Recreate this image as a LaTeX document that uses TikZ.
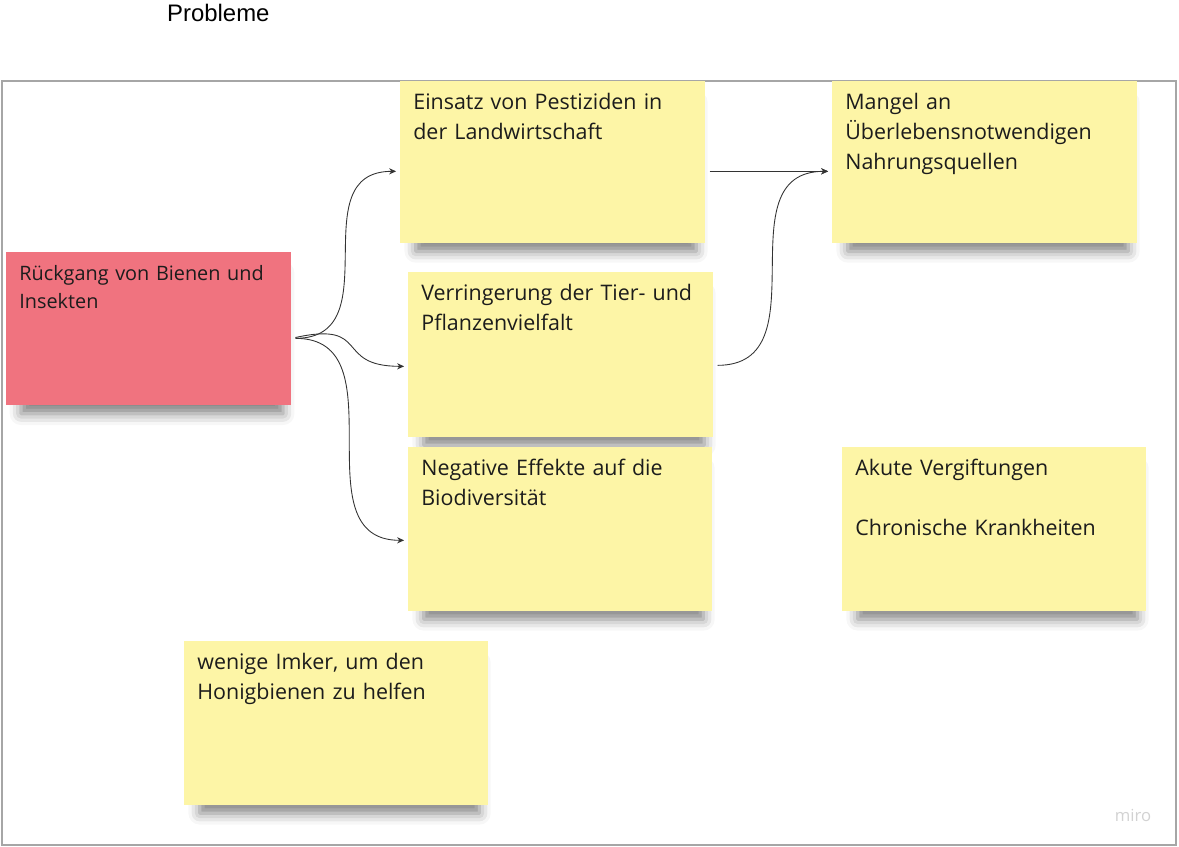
\documentclass[tikz,border=0pt]{standalone}
\usepackage{fontspec}
\setmainfont{Open Sans}
\newfontfamily\titlefont{Liberation Sans}
\usetikzlibrary{arrows.meta,shadows.blur}
\definecolor{noteyellow}{HTML}{FDF5A6}
\definecolor{notered}{HTML}{F0737F}
\definecolor{notetext}{HTML}{1C1C1C}
\tikzset{
  sticky/.style 2 args={anchor=north west, align=left, fill=noteyellow,
    inner xsep=0.26cm, inner ysep=0pt, text width=#1, text height=0.57cm, text depth=#2,
    text=notetext, font=\fontsize{12.2}{17}\selectfont,
    blur shadow={shadow xshift=2pt, shadow yshift=-9pt, shadow scale=0.92,
      shadow blur radius=7pt, shadow opacity=50}},
  link/.style={draw=black!80, line width=0.5pt, -{Stealth[length=4pt,width=3.5pt]},
    shorten <=2.2pt, shorten >=2.2pt}
}
\begin{document}
\begin{tikzpicture}[x=0.02cm,y=-0.02cm]
\useasboundingbox (0,0) rectangle (1179,847);
\draw[gray!70, line width=0.6pt] (2,81) rectangle (1176,845);
\node[anchor=base west, font=\titlefont\fontsize{13.6}{16}\selectfont] (title) at (161,22) {Probleme};
\node[text=gray!35, font=\fontsize{9.5}{11}\selectfont] (miro) at (1133,815) {miro};
% sticky notes
\node[sticky={5.18cm}{2.49cm}, fill=notered, font=\fontsize{11.3}{15.7}\selectfont] (r) at (6,252) {R\"uckgang von Bienen und\\Insekten};
\node[sticky={5.58cm}{2.67cm}] (e) at (400,81) {Einsatz von Pestiziden in\\der Landwirtschaft};
\node[sticky={5.58cm}{2.67cm}] (m) at (832,81) {Mangel an\\\"Uberlebensnotwendigen\\Nahrungsquellen};
\node[sticky={5.58cm}{2.73cm}] (v) at (408,272) {Verringerung der Tier- und\\Pflanzenvielfalt};
\node[sticky={5.56cm}{2.71cm}] (n) at (408,447) {Negative Effekte auf die\\Biodiversit\"at};
\node[sticky={5.56cm}{2.71cm}] (a) at (842,447) {Akute Vergiftungen\\[17pt]Chronische Krankheiten};
\node[sticky={5.56cm}{2.71cm}] (w) at (184,641) {wenige Imker, um den\\Honigbienen zu helfen};
% connectors
\draw[link] ([yshift=-0.19cm]r.east) .. controls +(2cm,0) and +(-2cm,0) .. ([yshift=-0.18cm]e.west);
\draw[link] ([yshift=-0.19cm]r.east) .. controls +(1.6cm,0.35cm) and +(-1.5cm,0) .. ([yshift=-0.23cm]v.west);
\draw[link] ([yshift=-0.19cm]r.east) .. controls +(2.2cm,0) and +(-2.2cm,0) .. ([yshift=-0.22cm]n.west);
\draw[link] ([yshift=-0.18cm]e.east) -- ([yshift=-0.18cm]m.west);
\draw[link] ([yshift=-0.21cm]v.east) .. controls +(2.2cm,0) and +(-2.2cm,0) .. ([yshift=-0.18cm]m.west);
\end{tikzpicture}
\end{document}
